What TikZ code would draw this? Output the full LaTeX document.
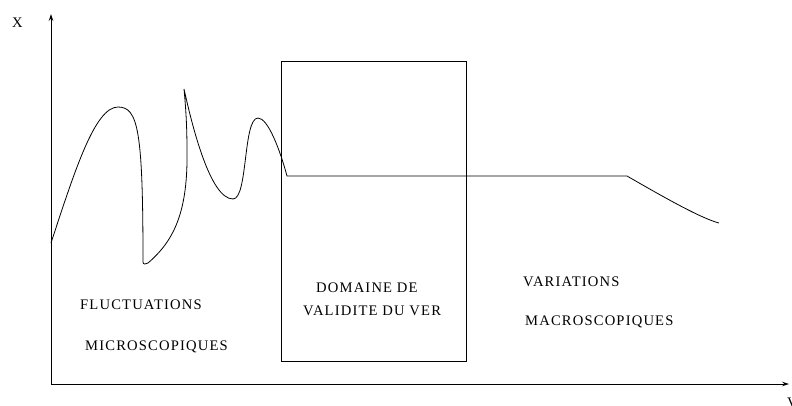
\documentclass[tikz,border=0pt]{standalone}
\usepackage{fontspec}
\setmainfont{Liberation Serif}
\newfontfamily\figfont[LetterSpace=8]{Liberation Serif}
\usetikzlibrary{arrows.meta}
\begin{document}
\begin{tikzpicture}[x=1pt,y=-1pt,
  lbl/.style={anchor=base west,inner sep=0pt,font=\figfont\fontsize{14.6}{16}\selectfont},
  axis/.style={line width=0.9pt,-{Stealth[length=7pt,width=4.5pt,inset=2.5pt]}},
  curve/.style={line width=0.8pt}]
\useasboundingbox (0,0) rectangle (792,405);
\coordinate (O) at (51,384);
\coordinate (Ytop) at (51,14);
\coordinate (Xend) at (789,384);
\draw[axis] (O) -- (Ytop);
\draw[axis] (O) -- (Xend);
\node[lbl] (lx) at (12,27) {X};
\node[lbl] (lv) at (787,407) {V};
\node[draw,line width=0.8pt,inner sep=0pt,minimum width=185pt,minimum height=300pt] (box) at (373.5,211) {};
\draw[curve] (51,243) .. controls (75,170) and (95,107) .. (118,107)
  .. controls (138,107) and (143,130) .. (143,262)
  .. controls (143,265) and (146,264) .. (148,263)
  .. controls (175,240) and (188,210) .. (187,150)
  .. controls (187,120) and (185,100) .. (184,89)
  .. controls (192,125) and (210,199) .. (233,199)
  .. controls (248,199) and (243,118) .. (258,118)
  .. controls (268,118) and (280,150) .. (287,176)
  -- (627,176)
  .. controls (660,195) and (700,218) .. (719,223);
\node[lbl] (t1) at (80,309) {FLUCTUATIONS};
\node[lbl] (t2) at (85,350) {MICROSCOPIQUES};
\node[lbl] (t3) at (316,292) {DOMAINE DE};
\node[lbl] (t4) at (303,315) {VALIDITE DU VER};
\node[lbl] (t5) at (523,286) {VARIATIONS};
\node[lbl] (t6) at (525,325) {MACROSCOPIQUES};
\end{tikzpicture}
\end{document}
